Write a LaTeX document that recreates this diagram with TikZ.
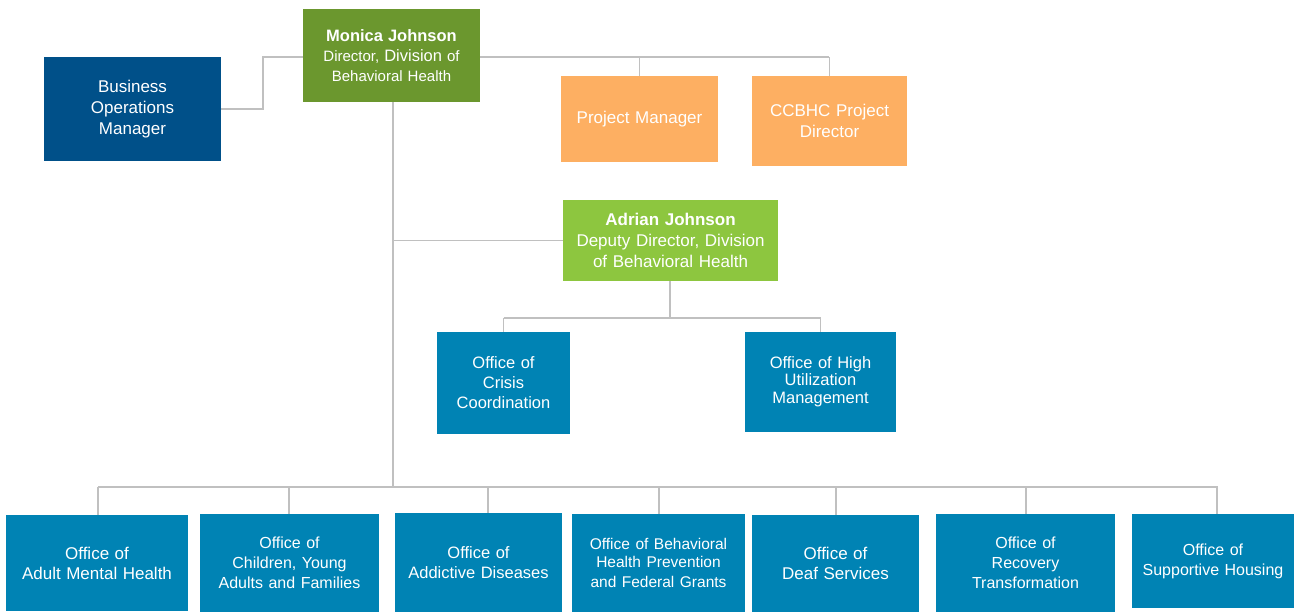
\documentclass[tikz,border=0pt]{standalone}
\usepackage{fontspec}
\setmainfont{Liberation Sans}
\definecolor{bizblue}{RGB}{0,80,137}
\definecolor{dirgreen}{RGB}{107,151,46}
\definecolor{depgreen}{RGB}{141,198,63}
\definecolor{projorange}{RGB}{253,175,98}
\definecolor{offblue}{RGB}{0,131,180}
\definecolor{linegray}{RGB}{192,192,192}
\newcommand{\orgbox}[7]{%
  \node[#6, minimum width={#4-#2}, minimum height={#5-#3}, text width={#4-#2-4}]
    (#1) at ({(#2+#4)/2},{(#3+#5)/2}) {#7};}
\tikzset{
  base/.style={draw=none, inner sep=0pt, align=center, text=white, font=\fontsize{17}{21}\selectfont},
  bizbox/.style={base, fill=bizblue},
  dirbox/.style={base, fill=dirgreen, font=\fontsize{15}{20}\selectfont},
  depbox/.style={base, fill=depgreen, font=\fontsize{17}{21}\selectfont},
  projbox/.style={base, fill=projorange},
  offbox/.style={base, fill=offblue, font=\fontsize{16.5}{20}\selectfont},
  conn/.style={draw=linegray, line width=1.4pt},
}
\begin{document}
\begin{tikzpicture}[x=1pt,y=-1pt]
\useasboundingbox[fill=white] (0,0) rectangle (1298,612);
% top level
\orgbox{bom}{44}{57}{221}{161}{bizbox}{\raisebox{-2pt}{}Business\\Operations\\Manager}
\orgbox{dir}{303}{9}{480}{102}{dirbox}{{\fontsize{16.5}{20}\selectfont\bfseries Monica Johnson}\\Director, {\fontsize{16.5}{20}\selectfont Division} of\\Behavioral Health}
\orgbox{pm}{561}{76}{718}{162}{projbox}{Project Manager}
\orgbox{ccb}{752}{76}{907}{166}{projbox}{CCBHC Project\\Director}
\orgbox{dep}{563}{200}{778}{281}{depbox}{{\bfseries Adrian Johnson}\\Deputy Director, Division\\of Behavioral Health}
\orgbox{cri}{437}{332}{570}{434}{offbox}{Office of\\Crisis\\Coordination}
\orgbox{hum}{745}{332}{896}{432}{offbox}{Office of High\\[-3pt]Utilization\\[-2pt]Management}
% bottom row
\orgbox{amh}{6}{515}{188}{611}{offbox}{\fontsize{17}{21}\selectfont Office of\\Adult Mental Health}
\orgbox{cyf}{200}{514}{379}{612}{offbox}{\fontsize{16}{20}\selectfont Office of\\Children, Young\\Adults and Families}
\orgbox{add}{395}{513}{562}{612}{offbox}{\fontsize{16.5}{20}\selectfont Office of\\Addictive Diseases}
\orgbox{bhp}{572}{514}{745}{612}{offbox}{\fontsize{15.5}{18}\selectfont Office of Behavioral\\Health Prevention\\and Federal Grants}
\orgbox{dea}{752}{515}{919}{612}{offbox}{\fontsize{17}{21}\selectfont Office of\\Deaf Services}
\orgbox{rec}{936}{514}{1115}{612}{offbox}{\fontsize{16}{20}\selectfont Office of\\Recovery\\Transformation}
\orgbox{sup}{1132}{514}{1294}{608}{offbox}{\fontsize{16}{20}\selectfont Office of\\Supportive Housing}
% connectors
\coordinate (mainbus) at (393,487);
\coordinate (depbus) at (670,318);
\draw[conn] (dir.west |- 0,57) -| (263,109) -- (bom.east |- 0,109);
\draw[conn] (dir.east |- 0,57) -- (829,57);
\draw[conn] (pm.north) -- (pm.north |- 0,57);
\draw[conn] (ccb.north) -- (ccb.north |- 0,57);
\draw[conn] (dir.south -| mainbus) -- (mainbus);
\draw[conn] (dep.west) -- (dep.west -| mainbus);
\draw[conn] (dep.south -| depbus) -- (depbus);
\draw[conn] (cri.north |- depbus) -- (hum.north |- depbus);
\draw[conn] (cri.north) -- (cri.north |- depbus);
\draw[conn] (hum.north) -- (hum.north |- depbus);
\draw[conn] (98,487) -- (1218,487);
\foreach \n/\x in {amh/98,cyf/289,add/488,bhp/659,dea/836,rec/1026,sup/1217}
  \draw[conn] (\x,487) -- (\n.north -| \x,0);
\end{tikzpicture}
\end{document}
